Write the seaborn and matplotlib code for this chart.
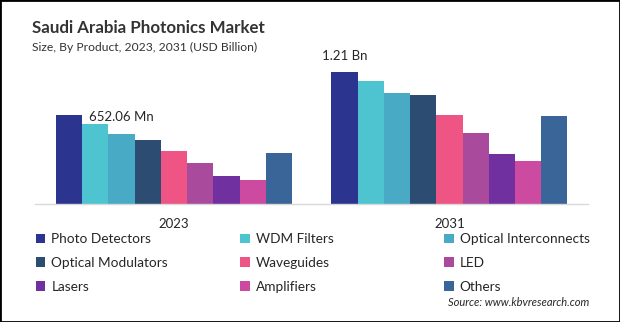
import matplotlib
matplotlib.use("Agg")
import matplotlib.pyplot as plt
import seaborn as sns
import pandas as pd
from matplotlib.patches import Rectangle

years = ["2023", "2031"]
products = ["Photo Detectors", "WDM Filters", "Optical Interconnects",
            "Optical Modulators", "Waveguides", "LED",
            "Lasers", "Amplifiers", "Others"]
values_2023 = [0.816, 0.733, 0.642, 0.587, 0.486, 0.379, 0.257, 0.220, 0.468]
values_2031 = [1.210, 1.128, 1.018, 0.999, 0.816, 0.651, 0.458, 0.394, 0.807]
colors = ["#2B3590", "#4EC4D0", "#48AAC4", "#2C4C72", "#EE5585",
          "#A94A9C", "#7030A0", "#CC4A9F", "#3A6598"]
label_2023 = "652.06 Mn"
label_2031 = "1.21 Bn"

rows = []
for yr, vals in zip(years, [values_2023, values_2031]):
    for p, v in zip(products, vals):
        rows.append({"year": yr, "product": p, "value": v})
df = pd.DataFrame(rows)

sns.set_theme(style="white")
plt.rcParams["font.family"] = ["Lato", "DejaVu Sans"]

W, H = 620, 322
fig = plt.figure(figsize=(W / 100, H / 100), dpi=100)
ax = fig.add_axes([35 / W, 1 - 204 / H, 553 / W, 144 / H])

group_w = 0.857
sns.barplot(data=df, x="year", y="value", hue="product", hue_order=products,
            order=years, palette=colors, width=group_w, saturation=1,
            ax=ax, errorbar=None, linewidth=0)

handles, labels = ax.get_legend_handles_labels()
if ax.get_legend() is not None:
    ax.get_legend().remove()

ax.set_xlim(-0.5045, 1.503)
ax.set_ylim(0, 1.32)
for s in ["top", "right", "left"]:
    ax.spines[s].set_visible(False)
ax.spines["bottom"].set_color("#D9D9D9")
ax.spines["bottom"].set_linewidth(1)
ax.set_yticks([])
ax.set_xlabel("")
ax.set_ylabel("")
ax.tick_params(axis="x", length=0, pad=10, labelsize=9.5, labelcolor="#262626")

nb = len(products)
first_off = -group_w / 2 + group_w / nb / 2
ax.annotate(label_2023, xy=(0 + first_off, values_2023[0]), xytext=(14.4, -1.4),
            textcoords="offset points", ha="left", va="center",
            fontsize=9.5, color="#262626")
ax.annotate(label_2031, xy=(1 + first_off, values_2031[0]), xytext=(0, 7),
            textcoords="offset points", ha="center", va="bottom",
            fontsize=9.5, color="#262626")

fig.text(32 / W, 1 - 28 / H, "Saudi Arabia Photonics Market", fontsize=12.2,
         fontweight="bold", color="#333333", ha="left", va="center")
fig.text(32 / W, 1 - 47 / H, "Size, By Product, 2023, 2031 (USD Billion)",
         fontsize=8.7, color="#333333", ha="left", va="center")

col_x = [35.6, 240, 444]
for ci in range(3):
    idx = [ci, ci + 3, ci + 6]
    fig.legend([handles[i] for i in idx], [labels[i] for i in idx],
               loc="center left", bbox_to_anchor=(col_x[ci] / W, 1 - 263 / H),
               frameon=False, fontsize=9.8, handlelength=0.7, handleheight=0.7,
               handletextpad=0.45, borderpad=0, borderaxespad=0,
               labelspacing=0.85, labelcolor="#262626")

fig.text(589 / W, 1 - 303 / H, "Source: www.kbvresearch.com", fontsize=8,
         style="italic", color="#262626", ha="right", va="center")

fig.add_artist(Rectangle((0, 0), 1, 1, transform=fig.transFigure, fill=False,
                         edgecolor="black", linewidth=2))

fig.savefig("out.png", dpi=100)
